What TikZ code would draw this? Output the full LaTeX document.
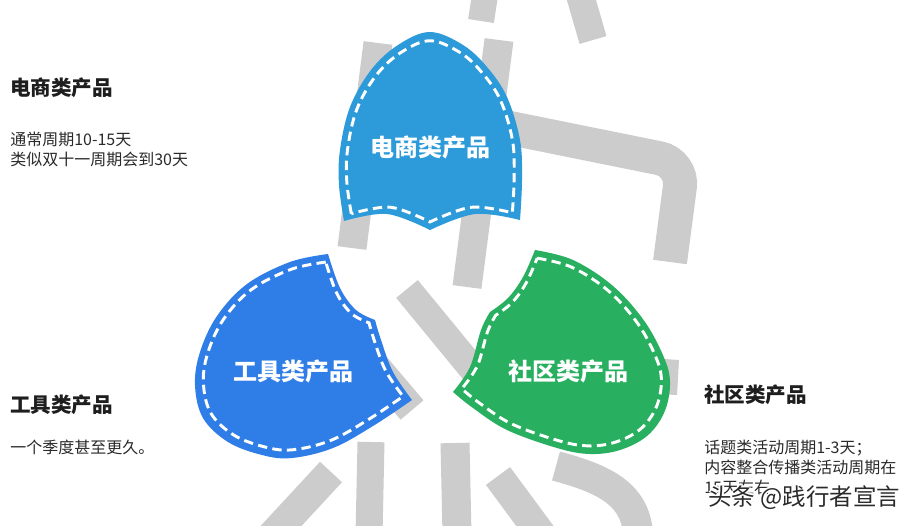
\documentclass[tikz,border=0pt]{standalone}
\usepackage{fontspec}
\setmainfont{Noto Sans CJK SC}
\definecolor{ecblue}{HTML}{2D9AD9}
\definecolor{toolblue}{HTML}{2F7DE6}
\definecolor{commgreen}{HTML}{28AF5F}
\definecolor{wmgray}{HTML}{CCCCCD}
\definecolor{headtxt}{HTML}{1E1E1E}
\definecolor{bodytxt}{HTML}{2A2A2A}
\tikzset{
  wm/.style={draw=wmgray, line width=#1*0.75pt, line cap=butt},
  stitch/.style={draw=white, line width=2.2pt, dash pattern=on 7pt off 4pt},
  blobtext/.style={text=white, font=\bfseries\fontsize{18}{20}\selectfont, inner sep=0},
  headtext/.style={text=headtxt, font=\bfseries\fontsize{15.4}{18}\selectfont, anchor=west, inner sep=0},
  bodytext/.style={text=bodytxt, font=\fontsize{12}{14}\selectfont, anchor=west, inner sep=0},
  srcfont/.style={font=\fontsize{17.6}{19}\selectfont, anchor=west, inner sep=0},
}
\newcommand\shapeEC{(344,221) -- plot[smooth,tension=0.6] coordinates {(344,221) (339,185) (340,150) (350,107) (371,70) (398,45) (430,32) (463,45) (487,67) (507,97) (520,140) (522,180) (520,220)}
  -- plot[smooth,tension=0.6] coordinates {(520,220) (475,214) (430,230)}
  -- plot[smooth,tension=0.6] coordinates {(430,230) (387,214) (344,221)} -- cycle}
\newcommand\shapeTool{(328,254) -- plot[smooth,tension=0.6] coordinates {(328,254) (290,262) (247,284) (217,316) (200,352) (195,385) (203,418) (228,442) (262,455) (292,458) (333,448) (373,426) (412,400)}
  -- plot[smooth,tension=0.6] coordinates {(412,400) (393,372) (381,340) (375,320)}
  -- plot[smooth,tension=0.6] coordinates {(375,320) (356,310) (340,288) (328,254)} -- cycle}
\newcommand\shapeComm{(535,250) -- plot[smooth,tension=0.6] coordinates {(535,250) (573,260) (613,286) (645,322) (665,360) (670,385) (664,413) (647,436) (620,450) (590,454) (557,448) (507,430) (473,408) (453,392)}
  -- plot[smooth,tension=0.6] coordinates {(453,392) (470,367) (481,330) (490,312)}
  -- plot[smooth,tension=0.6] coordinates {(490,312) (508,298) (523,277) (535,250)} -- cycle}
\begin{document}
\begin{tikzpicture}[x=0.75pt,y=-0.75pt]
\useasboundingbox (0,0) rectangle (916,525);
\fill[white] (0,0) rectangle (916,525);
% watermark strokes
\draw[wm=26] (485,-5) -- (481,21);
\draw[wm=28] (580,-5) -- (593,40);
\draw[wm=29] (378,43) -- (352,248);
\draw[wm=29] (499,40) -- (467,287);
\draw[wm=34, rounded corners=18pt] (500,126) -- (683,163) -- (670,262);
\draw[wm=28] (407,289) -- (490,390);
\draw[wm=30] (340,325) -- (412,410);
\fill[wmgray] (635,357) -- (679,360) -- (677,395) -- (635,393) -- cycle;
\draw[wm=30] (331,472) -- (268,540);
\draw[wm=27] (371,442) -- (369,535);
\draw[wm=29] (455,443) -- (457,535);
\draw[wm=30] (498,476) -- (560,560);
\draw[wm=30] (556,466) .. controls (600,478) and (636,492) .. (638,535);
% shapes
\fill[ecblue] \shapeEC;
\draw[stitch, scale around={0.915:(430,135)}] \shapeEC;
\fill[toolblue] \shapeTool;
\draw[stitch, scale around={0.92:(300,355)}] \shapeTool;
\fill[commgreen] \shapeComm;
\draw[stitch, scale around={0.92:(562,352)}] \shapeComm;
\node[blobtext] (ecl) at (430,147) {电商类产品};
\node[blobtext] (tooll) at (293,371) {工具类产品};
\node[blobtext] (comml) at (568,371) {社区类产品};
% side texts
\node[headtext] (ech) at (10,88) {电商类产品};
\node[bodytext] (ecb1) at (10,139) {通常周期10-15天};
\node[bodytext] (ecb2) at (10,159) {类似双十一周期会到30天};
\node[headtext] (toolh) at (10,405) {工具类产品};
\node[bodytext] (toolb1) at (10,447) {一个季度甚至更久。};
\node[headtext] (commh) at (704,395) {社区类产品};
\node[bodytext] (commb1) at (704,448) {话题类活动周期1-3天；};
\node[bodytext] (commb2) at (704,467) {内容整合传播类活动周期在};
\node[bodytext] (commb3) at (704,487) {15天左右};
% source mark with halo
\foreach \dx/\dy in {-2/0,2/0,0/-2,0/2}
  \node[srcfont, text=white] at (708+\dx,498+\dy) {头条 @践行者宣言};
\node[srcfont, text=bodytxt] (src) at (708,498) {头条 @践行者宣言};
\end{tikzpicture}
\end{document}
